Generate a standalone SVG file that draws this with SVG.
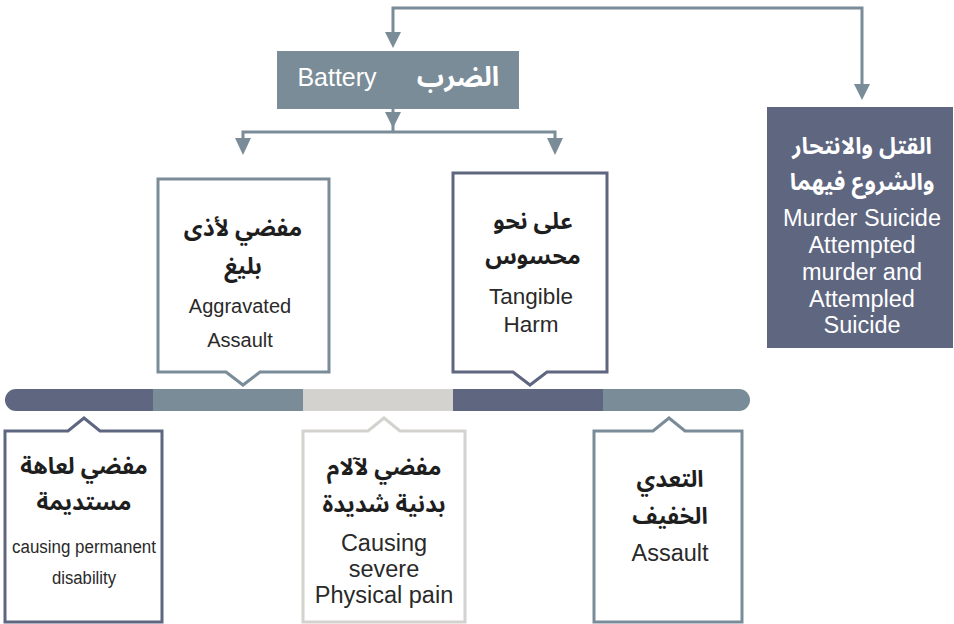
<svg xmlns="http://www.w3.org/2000/svg" width="954" height="624" viewBox="0 0 954 624">
<style>
.ar{font-family:"Noto Sans Arabic","DejaVu Sans",sans-serif;font-weight:bold;text-anchor:middle;fill:#1e1e1e}
.en{font-family:"Liberation Sans",Arial,sans-serif;text-anchor:middle;fill:#2a2a2a}
.wt{fill:#ffffff}
.conn{fill:none;stroke:#7a8c98;stroke-width:3}
.head{fill:#7a8c98}
.box{fill:#ffffff;stroke-width:3}
</style>
<g id="connectors">
<polyline class="conn" points="393,34 393,8 862,8 862,84"/>
<polygon class="head" points="385,32 401,32 393,48"/>
<polygon class="head" points="854,84 870,84 862,100"/>
<line class="conn" x1="393" y1="109" x2="393" y2="132"/>
<polygon class="head" points="385,112 401,112 393,128"/>
<polyline class="conn" points="243,140 243,132 555,132 555,140"/>
<polygon class="head" points="235,138 251,138 243,155"/>
<polygon class="head" points="547,138 563,138 555,155"/>
</g>
<g id="bar">
<path d="M16,389 H153 V411 H16 A11,11 0 0 1 16,389 Z" fill="#5e6680"/>
<rect x="153" y="389" width="150" height="22" fill="#7a8c98"/>
<rect x="303" y="389" width="150" height="22" fill="#d3d2cf"/>
<rect x="453" y="389" width="150" height="22" fill="#5e6680"/>
<path d="M603,389 H739 A11,11 0 0 1 739,411 H603 Z" fill="#7a8c98"/>
</g>
<g id="battery">
<rect x="277" y="51" width="242" height="58" fill="#7a8c98"/>
<text class="en wt" x="337" y="86" style="font-size:25px">Battery</text>
<text class="ar wt" x="458" y="86" style="font-size:27px">الضرب</text>
</g>
<g id="murder">
<rect x="767" y="107" width="186" height="241" fill="#5e6680"/>
<text class="ar wt" x="862" y="154" style="font-size:23px">القتل والانتحار</text>
<text class="ar wt" x="862" y="190" style="font-size:23px">والشروع فيهما</text>
<text class="en wt" x="862" y="226" style="font-size:23.5px">Murder Suicide</text>
<text class="en wt" x="862" y="253" style="font-size:23.5px">Attempted</text>
<text class="en wt" x="862" y="280" style="font-size:23.5px">murder and</text>
<text class="en wt" x="862" y="307" style="font-size:23.5px">Attempled</text>
<text class="en wt" x="862" y="333" style="font-size:23.5px">Suicide</text>
</g>
<g id="aggravated">
<path class="box" stroke="#7a8c98" d="M158,179 H329 V372 H260 L243,385 L226,372 H158 Z"/>
<text class="ar" x="243" y="236" style="font-size:23px">مفضي لأذى</text>
<text class="ar" x="243" y="274" style="font-size:23px">بليغ</text>
<text class="en" x="240" y="313" style="font-size:20px">Aggravated</text>
<text class="en" x="240" y="347" style="font-size:20px">Assault</text>
</g>
<g id="tangible">
<path class="box" stroke="#5e6680" d="M453,173 H607 V372 H547 L530,385 L513,372 H453 Z"/>
<text class="ar" x="533" y="229" style="font-size:23px">على نحو</text>
<text class="ar" x="533" y="264" style="font-size:23px">محسوس</text>
<text class="en" x="531" y="304" style="font-size:22.5px">Tangible</text>
<text class="en" x="531" y="332" style="font-size:22.5px">Harm</text>
</g>
<g id="permanent">
<path class="box" stroke="#5e6680" d="M5,431 H68 L84,418 L100,431 H162 V622 H5 Z"/>
<text class="ar" x="84" y="474" style="font-size:23px">مفضي لعاهة</text>
<text class="ar" x="84" y="510" style="font-size:23px">مستديمة</text>
<text class="en" x="84" y="553" style="font-size:18px" textLength="144" lengthAdjust="spacingAndGlyphs">causing permanent</text>
<text class="en" x="84" y="584" style="font-size:18px" textLength="64" lengthAdjust="spacingAndGlyphs">disability</text>
</g>
<g id="severe">
<path class="box" stroke="#d3d2cf" d="M303,431 H368 L384,418 L400,431 H465 V622 H303 Z"/>
<text class="ar" x="384" y="475" style="font-size:23px">مفضي لآلام</text>
<text class="ar" x="384" y="512" style="font-size:23px">بدنية شديدة</text>
<text class="en" x="384" y="551" style="font-size:23.5px">Causing</text>
<text class="en" x="384" y="577" style="font-size:23.5px">severe</text>
<text class="en" x="384" y="603" style="font-size:23.5px">Physical pain</text>
</g>
<g id="assault">
<path class="box" stroke="#7a8c98" d="M594,431 H653 L669,418 L685,431 H742 V622 H594 Z"/>
<text class="ar" x="670" y="487" style="font-size:23px">التعدي</text>
<text class="ar" x="670" y="524" style="font-size:23px">الخفيف</text>
<text class="en" x="670" y="561" style="font-size:23.5px">Assault</text>
</g>
</svg>
